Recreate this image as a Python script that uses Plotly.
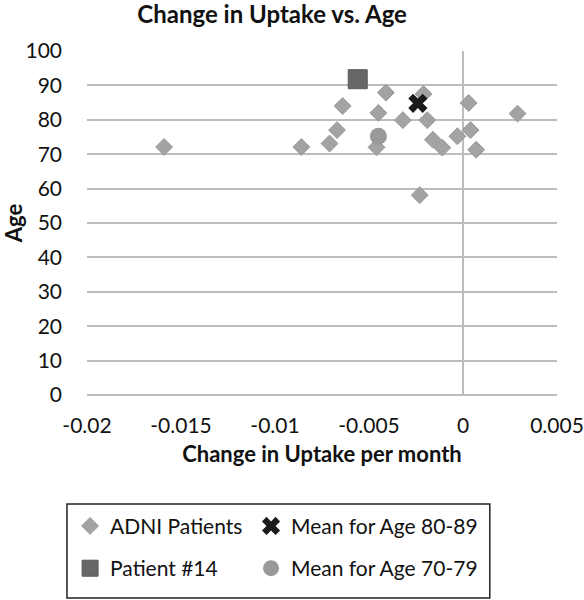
import plotly.graph_objects as go

# ADNI patients: change in uptake per month vs age
adni_x = [-0.0159, -0.0086, -0.0071, -0.0067, -0.0064, -0.0041, -0.0045, -0.0046,
          -0.0032, -0.0021, -0.0023, -0.0019, -0.0016, -0.0011, -0.0003, 0.0003,
          0.0004, 0.0007, 0.0029]
adni_y = [72.1, 72.1, 73.1, 77.0, 84.0, 87.9, 82.0, 72.0,
          79.9, 87.5, 58.1, 79.9, 74.2, 71.9, 75.2, 84.9,
          77.0, 71.3, 81.8]

p14_x = [-0.0056]
p14_y = [91.8]

mean80_x = [-0.0024]
mean80_y = [84.8]

mean70_x = [-0.0045]
mean70_y = [75.2]

x_ticks = [-0.02, -0.015, -0.01, -0.005, 0, 0.005]
x_tick_labels = ["-0.02", "-0.015", "-0.01", "-0.005", "0", "0.005"]
y_ticks = list(range(0, 101, 10))

FONT = "Lato"

fig = go.Figure()
fig.add_trace(go.Scatter(
    x=adni_x, y=adni_y, mode="markers", name="ADNI Patients",
    legend="legend", legendgroup="a",
    marker=dict(symbol="diamond", size=13, color="#a3a3a3",
                line=dict(color="#9a9a9a", width=1))))
fig.add_trace(go.Scatter(
    x=p14_x, y=p14_y, mode="markers", name="Patient #14",
    legend="legend", legendgroup="b",
    marker=dict(symbol="square", size=19, color="#676767",
                line=dict(color="#5a5a5a", width=1))))
fig.add_trace(go.Scatter(
    x=mean80_x, y=mean80_y, mode="markers", name="Mean for Age 80-89",
    legend="legend2", legendgroup="c",
    marker=dict(symbol="x", size=17, color="#1a1a1a",
                line=dict(color="#1a1a1a", width=0))))
fig.add_trace(go.Scatter(
    x=mean70_x, y=mean70_y, mode="markers", name="Mean for Age 70-79",
    legend="legend2", legendgroup="d",
    marker=dict(symbol="circle", size=17, color="#999999",
                line=dict(width=0))))

leg_common = dict(orientation="v", yanchor="top", xanchor="left",
                  bgcolor="rgba(0,0,0,0)", borderwidth=0, itemwidth=30,
                  tracegroupgap=12, itemsizing="trace",
                  font=dict(family=FONT, size=21, color="#111111"))

fig.update_layout(
    width=584, height=600,
    paper_bgcolor="white", plot_bgcolor="white",
    margin=dict(l=87, r=27, t=51, b=205, autoexpand=False),
    font=dict(family=FONT, size=21, color="#111111"),
    title=dict(text="<b>Change in Uptake vs. Age</b>", x=0.466, xref="container",
               xanchor="center", y=0.975, yref="container", yanchor="middle",
               font=dict(family=FONT, size=24, color="#111111")),
    showlegend=True,
    legend=dict(x=-0.036, y=-0.322, **leg_common),
    legend2=dict(x=0.349, y=-0.322, **leg_common),
    shapes=[dict(type="rect", xref="paper", yref="paper",
                 x0=-0.0426, x1=0.857, y0=-0.317, y1=-0.590,
                 line=dict(color="#222222", width=1.5), fillcolor="rgba(0,0,0,0)")],
)
fig.update_xaxes(
    range=[-0.02, 0.005], tickvals=x_ticks, ticktext=x_tick_labels,
    showgrid=False, zeroline=True, zerolinecolor="#bdbdbd", zerolinewidth=1.5,
    showline=False, ticks="", ticklabelstandoff=16, automargin=False,
    title=dict(text="<b>Change in Uptake per month</b>", standoff=10,
               font=dict(family=FONT, size=22)),
    tickfont=dict(family=FONT, size=21))
fig.update_yaxes(
    range=[0, 100], tickvals=y_ticks,
    showgrid=True, gridcolor="#bdbdbd", gridwidth=1.5,
    zeroline=True, zerolinecolor="#bdbdbd", zerolinewidth=1.5,
    showline=False, ticks="", ticklabelstandoff=24, automargin=False,
    title=dict(text="<b>Age</b>", standoff=13, font=dict(family=FONT, size=22)),
    tickfont=dict(family=FONT, size=21))

fig.write_html("out.html", config={"displayModeBar": False},
               post_script="document.body.style.margin='0';document.body.style.overflow='hidden';")
